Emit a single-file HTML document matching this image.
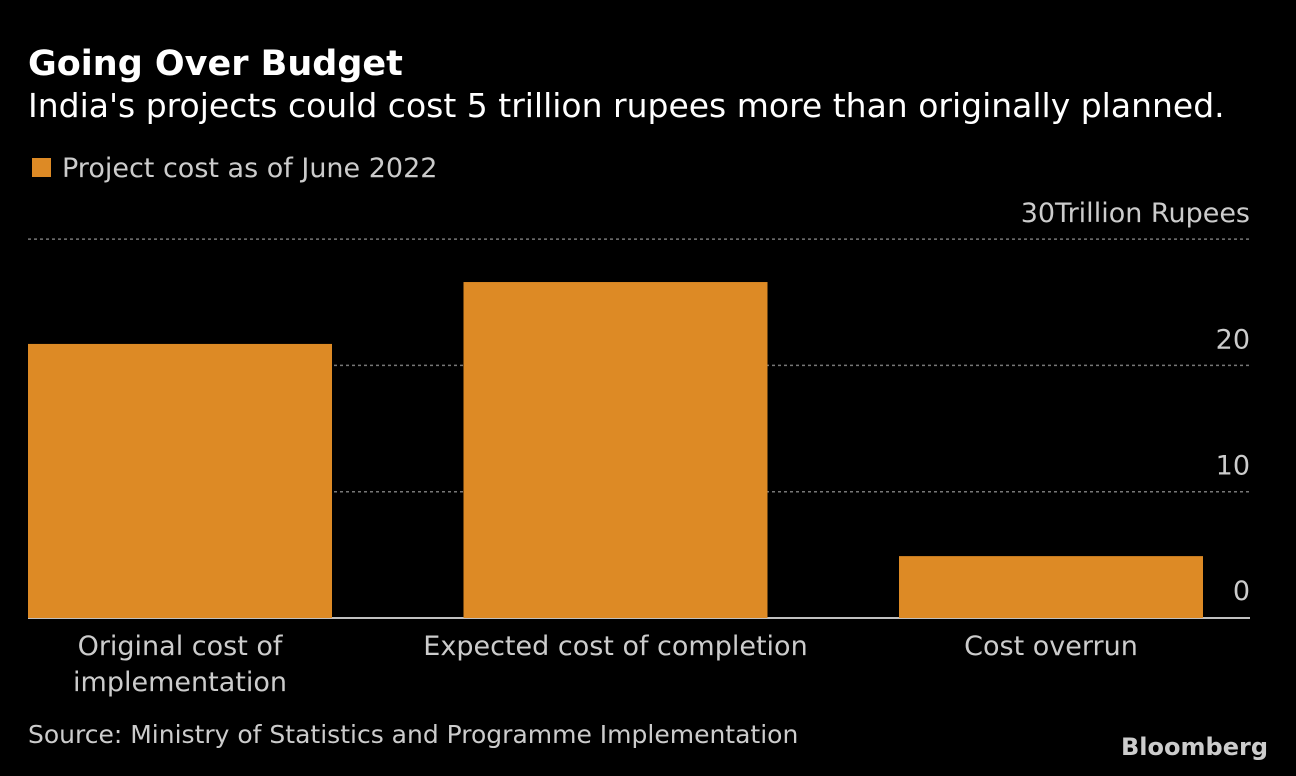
<!DOCTYPE html>
<html><head><meta charset="utf-8"><style>
body{margin:0;background:#000;width:1296px;height:772px;overflow:hidden;font-family:"DejaVu Sans","Liberation Sans",sans-serif;color:#fff}
</style></head><body>
<svg width="1296" height="772">
<text x="28" y="75" font-size="35" font-weight="bold" fill="#fff">Going Over Budget</text>
<text x="28" y="117" font-size="33" fill="#fff">India's projects could cost 5 trillion rupees more than originally planned.</text>
<rect x="32" y="158" width="19" height="19" fill="#dd8a25"/>
<text x="62" y="177" font-size="27" fill="#ccc">Project cost as of June 2022</text>
<g id="grid"></g><g id="bars"></g><g id="labels"></g>
<text x="28" y="743" font-size="25" fill="#ccc">Source: Ministry of Statistics and Programme Implementation</text>
<text x="1268" y="755" font-size="24" font-weight="bold" fill="#ccc" text-anchor="end">Bloomberg</text>
</svg>
<script>
const categories=[["Original cost of","implementation"],["Expected cost of completion"],["Cost overrun"]];
const values=[21.7,26.6,4.9];
const ticks=[0,10,20,30];
const tickLabels=["0","10","20","30"];
const NS="http://www.w3.org/2000/svg";
const y0=618,pxPer=12.63,left=28,right=1250,bandW=435.5,barW=304;
const y=v=>y0-v*pxPer;
const x=i=>left+i*bandW;
function mk(t,a,p){const e=document.createElementNS(NS,t);for(const k in a)e.setAttribute(k,a[k]);p.appendChild(e);return e;}
const g=document.getElementById('grid'),b=document.getElementById('bars'),l=document.getElementById('labels');
ticks.forEach((t,i)=>{
 if(t>0){const ln=mk('line',{x1:left,x2:right,y1:y(t),y2:y(t),stroke:'#777','stroke-dasharray':'3,3','stroke-width':1.5},g);
 
 }
 const tx=mk('text',{x:1250,y:y(t)-(t==0?18:17),'font-size':27,fill:'#ccc','text-anchor':'end'},g);
 tx.textContent=t==30?tickLabels[i]+"Trillion Rupees":tickLabels[i];
 
 
});
values.forEach((v,i)=>{
 const r=mk('rect',{x:x(i),y:y(v),width:barW,height:y0-y(v),fill:'#dd8a25'},b);
 
 
 categories[i].forEach((s,j)=>{
  const t=mk('text',{x:x(i)+barW/2,y:655+j*36,'font-size':27,fill:'#ccc','text-anchor':'middle'},l);
  t.textContent=s;
  
  
 });
});
const ax=mk('line',{x1:left,x2:right,y1:y0,y2:y0,stroke:'#fff','stroke-width':1.5},g);


</script>
</body></html>
